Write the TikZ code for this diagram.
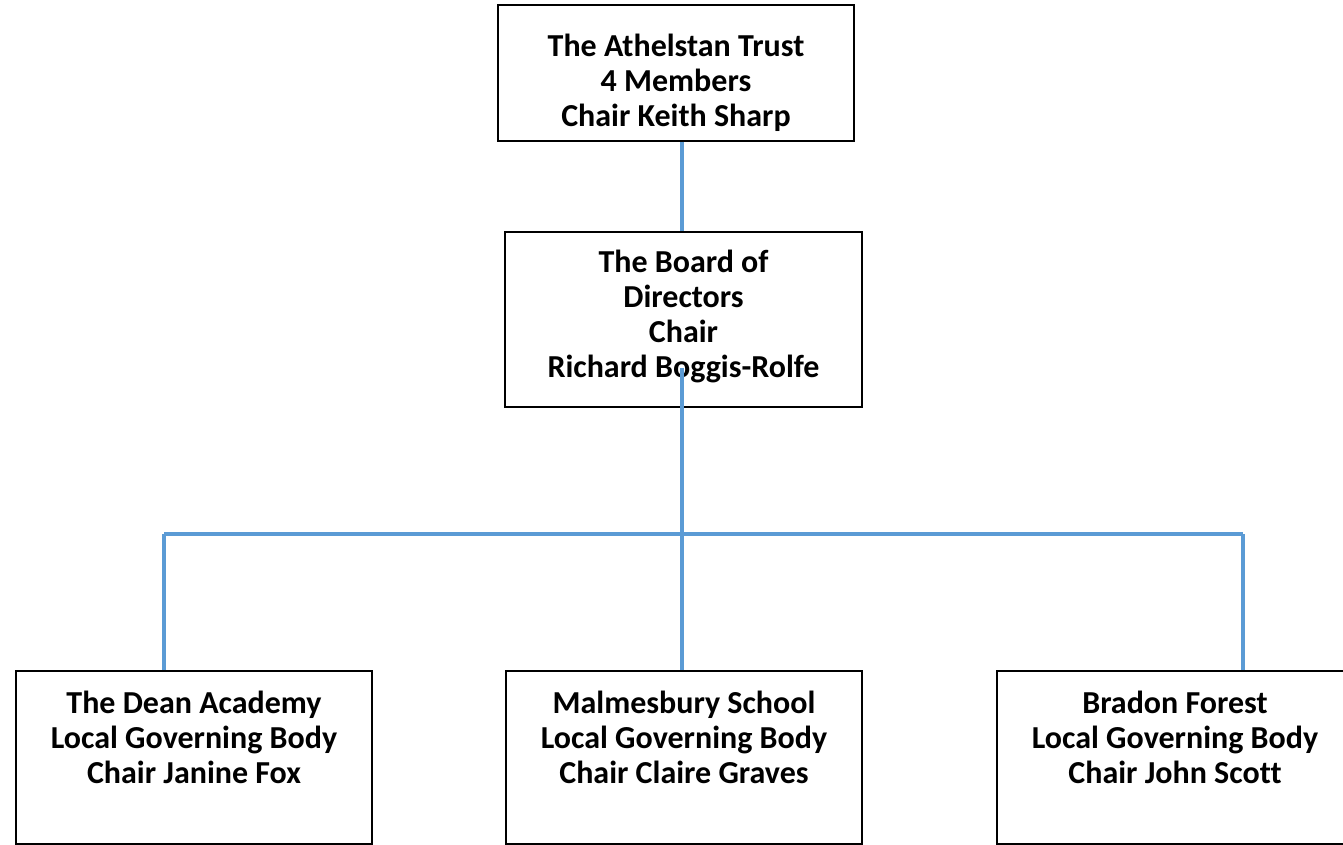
\documentclass[tikz,border=0pt]{standalone}
\usepackage{fontspec}
\setmainfont{Carlito}[Ligatures=NoCommon]
\definecolor{linkblue}{HTML}{5B9BD5}
\begin{document}
\begin{tikzpicture}[x=1pt,y=-1pt,
  box/.style={draw=black, line width=2pt, fill=white, inner sep=0pt},
  txt/.style={font=\bfseries\fontsize{32}{35}\selectfont, align=center, inner sep=0pt},
  link/.style={draw=linkblue, line width=4pt}]
\clip (0,0) rectangle (1343,845);
\fill[white] (0,0) rectangle (1343,845);
% boxes
\node[box, minimum width=356pt, minimum height=136pt] (trust) at (676,73) {};
\node[txt] (trustT) at (676,83) {The Athelstan Trust\\4 Members\\Chair Keith Sharp};
\node[box, minimum width=357pt, minimum height=175pt] (board) at (683.5,319.5) {};
\node[txt] (boardT) at (683.5,316) {The Board of\\Directors\\Chair\\Richard Boggis-Rolfe};
\node[box, minimum width=356pt, minimum height=173pt] (dean) at (194,757.5) {};
\node[txt, anchor=north] (deanT) at ([yshift=-21pt]dean.north) {The Dean Academy\\Local Governing Body\\Chair Janine Fox};
\node[box, minimum width=356pt, minimum height=173pt] (malm) at (684,757.5) {};
\node[txt, anchor=north] (malmT) at ([yshift=-21pt]malm.north) {Malmesbury School\\Local Governing Body\\Chair Claire Graves};
\node[box, minimum width=400pt, minimum height=173pt] (brad) at (1197,757.5) {};
\node[txt, anchor=north] (bradT) at ([yshift=-21pt]brad.north -| 1175,0) {Bradon Forest\\Local Governing Body\\Chair John Scott};
% connectors
\coordinate (trunk) at (682,368);
\coordinate (jl) at (164,534);
\coordinate (jr) at (1243,534);
\draw[link] (trust.south -| trunk) -- (board.north -| trunk);
\draw[link] (trunk) -- (malm.north -| trunk);
\draw[link] (jl) -- (jr);
\draw[link] (jl) -- (dean.north -| jl);
\draw[link] (jr) -- (brad.north -| jr);
\end{tikzpicture}
\end{document}
